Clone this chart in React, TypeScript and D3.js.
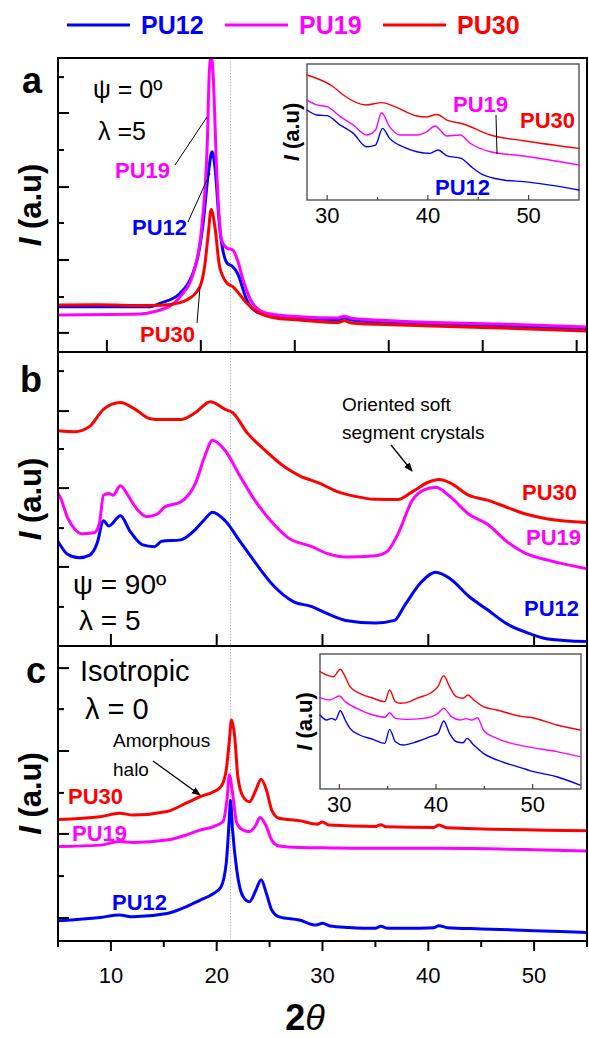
import React from "react";
import * as d3 from "d3";

type Pt = [number, number];

const FONT = "'Liberation Sans', Arial, Helvetica, sans-serif";
const SERIES = ["PU12", "PU19", "PU30"];
const COLORS: Record<string, string> = { PU12: "#0000ff", PU19: "#ff00ff", PU30: "#ff0000" };

// ---- panel a: psi = 0°, lambda = 5 (own 2θ axis)
const a_PU12: Pt[] = [[5.0,15.4],[14.5,15.4],[15.7,16.6],[17.8,20.0],[19.6,31.3],[20.2,42.6],[20.8,60.8],[21.2,68.1],[21.5,63.0],[22.0,42.6],[22.8,30.2],[23.4,29.0],[23.9,26.8],[24.9,17.7],[26.3,13.2],[30.5,11.6],[34.6,11.0],[35.3,11.6],[36.0,10.9],[41.2,9.9],[51.8,8.8],[61.1,7.8]];
const a_PU19: Pt[] = [[5.0,12.6],[12.8,12.8],[15.7,14.3],[17.8,18.8],[19.2,26.8],[20.1,42.6],[20.7,72.1],[20.9,94.8],[21.1,101],[21.3,94.8],[21.7,60.8],[22.2,38.1],[22.8,35.3],[23.4,34.7],[23.9,31.3],[24.5,24.5],[25.5,16.6],[27.0,13.2],[30.5,12.0],[34.6,11.6],[35.3,12.2],[36.0,11.5],[41.2,10.5],[51.8,9.5],[61.1,8.5]];
const a_PU30: Pt[] = [[5.0,16.0],[9.3,16.1],[12.8,15.8],[15.7,15.9],[17.8,16.8],[18.5,17.7],[19.9,22.2],[20.4,29.0],[20.8,40.4],[21.1,48.5],[21.5,42.6],[22.0,29.0],[22.8,23.4],[23.4,22.2],[23.9,20.5],[24.9,16.6],[26.0,13.7],[28.1,11.5],[30.5,10.9],[34.6,10.0],[35.3,10.6],[36.0,9.9],[41.2,9.2],[51.8,8.2],[61.1,7.1]];

// inset of panel a (28–55°)
const ia_PU12: Pt[] = [[28.0,66.2],[29.0,62.5],[30.0,62.0],[31.3,55.1],[32.6,49.0],[33.9,39.2],[34.8,40.4],[35.5,52.7],[36.2,45.3],[37.5,39.2],[38.9,35.5],[40.2,34.3],[41.0,36.8],[41.9,32.4],[43.3,30.6],[44.3,24.5],[45.5,18.4],[47.5,14.7],[49.5,13.5],[55.0,7.4]];
const ia_PU19: Pt[] = [[28.0,73.5],[29.0,69.9],[30.0,68.6],[31.3,61.3],[32.6,55.1],[33.9,47.8],[34.8,51.5],[35.4,64.2],[36.2,53.9],[37.2,47.8],[38.9,47.8],[39.9,50.2],[40.7,54.4],[41.9,47.1],[43.2,47.8],[44.2,41.7],[46.2,35.5],[49.5,32.4],[55.0,25.7]];
const ia_PU30: Pt[] = [[28.0,91.9],[30.6,83.3],[31.6,77.2],[33.9,69.9],[35.4,71.6],[36.6,69.0],[38.9,61.8],[39.8,61.0],[40.9,62.9],[41.9,58.8],[43.5,55.9],[46.2,47.8],[49.5,43.6],[55.0,38.0]];

// ---- panel b: psi = 90°, lambda = 5
const b_PU12: Pt[] = [[5.0,35.5],[5.2,34.4],[5.9,31.2],[7.0,30.0],[8.0,30.9],[8.7,35.0],[9.3,42.6],[9.8,40.8],[10.9,44.3],[11.8,39.1],[13.0,34.4],[14.1,33.8],[14.8,35.6],[16.6,36.1],[18.0,39.7],[18.9,43.2],[19.6,45.5],[20.8,42.6],[22.2,35.6],[23.6,28.6],[25.4,20.4],[27.2,15.2],[29.0,13.4],[30.4,11.1],[32.2,8.7],[35.0,7.8],[36.8,8.7],[37.8,14.0],[39.3,21.6],[40.7,25.1],[42.1,22.8],[43.8,17.0],[45.6,12.3],[47.4,7.6],[49.2,4.7],[51.3,2.4],[55.0,1.5]];
const b_PU19: Pt[] = [[5.0,52.0],[5.2,50.7],[5.9,43.7],[6.6,39.7],[7.2,38.2],[8.4,38.5],[8.9,41.4],[9.3,51.3],[9.8,51.9],[10.2,51.3],[10.9,54.5],[11.6,51.3],[12.3,47.3],[13.4,44.0],[14.4,44.9],[15.1,47.3],[16.6,49.0],[18.0,55.4],[18.9,64.8],[19.6,70.0],[20.8,66.5],[22.2,57.8],[23.6,49.6],[25.1,42.6],[26.8,36.7],[29.0,33.8],[30.4,31.5],[32.2,30.3],[35.0,30.7],[36.1,32.1],[37.1,37.9],[38.5,49.6],[39.6,53.1],[40.7,54.0],[42.1,50.7],[43.8,44.9],[45.6,41.4],[47.4,35.6],[49.2,31.5],[51.3,29.2],[55.0,26.3]];
const b_PU30: Pt[] = [[5.0,73.2],[6.6,72.9],[8.0,74.7],[9.3,80.5],[10.9,82.8],[12.3,80.5],[13.7,77.3],[14.8,77.0],[16.6,77.0],[18.0,79.4],[19.4,83.1],[20.8,80.5],[21.5,79.4],[22.9,72.4],[24.4,67.1],[26.5,60.7],[27.9,57.8],[29.7,55.4],[31.4,52.5],[33.2,50.8],[35.0,49.9],[37.1,49.8],[38.5,52.5],[40.0,55.7],[41.0,56.6],[42.1,55.4],[43.8,51.3],[45.6,49.6],[47.4,47.2],[49.2,44.9],[51.3,43.2],[55.0,42.0]];

// ---- panel c: isotropic, lambda = 0
const c_PU12: Pt[] = [[5.0,6.9],[9.0,8.0],[10.8,8.8],[12.1,8.2],[15.3,9.3],[17.1,11.6],[18.4,13.8],[19.7,16.1],[20.4,18.3],[20.9,26.3],[21.2,42.1],[21.3,47.7],[21.5,37.6],[21.9,24.0],[22.5,15.0],[23.1,13.3],[23.7,17.2],[24.2,20.8],[24.7,16.1],[25.2,10.5],[25.9,8.2],[27.8,7.1],[29.4,5.4],[30.0,6.0],[30.7,5.1],[32.5,4.6],[35.0,4.3],[35.5,5.0],[36.2,4.3],[38.0,4.3],[40.5,4.5],[41.0,5.2],[41.8,4.5],[45.0,4.1],[50.0,3.5],[55.0,2.9]];
const c_PU19: Pt[] = [[5.0,32.0],[9.0,32.5],[10.8,33.7],[12.1,33.4],[15.3,34.2],[17.1,35.9],[18.4,37.6],[19.7,38.8],[20.6,40.5],[21.0,48.9],[21.2,56.3],[21.5,50.1],[21.9,39.9],[22.5,37.6],[23.1,37.1],[23.7,39.3],[24.1,41.9],[24.7,38.8],[25.2,34.2],[25.9,32.2],[27.8,31.7],[30.0,31.6],[35.5,31.4],[41.0,31.4],[55.0,30.5]];
const c_PU30: Pt[] = [[5.0,41.2],[9.0,42.1],[10.8,43.3],[12.1,42.7],[15.3,43.9],[17.1,46.7],[18.4,48.9],[19.7,50.6],[20.4,52.3],[20.9,57.9],[21.2,68.1],[21.4,74.9],[21.7,69.3],[22.0,55.7],[22.5,48.9],[23.1,47.2],[23.7,51.2],[24.2,54.8],[24.7,51.2],[25.2,44.4],[25.9,41.6],[27.8,40.8],[29.5,39.6],[30.0,40.3],[30.6,39.3],[35.0,38.8],[35.5,39.4],[36.0,38.7],[40.5,38.5],[41.0,39.3],[41.7,38.4],[55.0,37.4]];

// inset of panel c (28–55°)
const ic_PU12: Pt[] = [[28.0,54.8],[28.7,51.1],[29.2,52.3],[29.6,51.1],[30.1,58.0],[30.6,51.1],[31.1,44.9],[32.1,40.0],[33.5,36.8],[34.7,33.8],[35.2,44.2],[35.8,35.0],[36.6,32.6],[38.0,35.0],[39.4,38.8],[40.2,41.2],[40.8,50.4],[41.4,41.2],[42.1,35.0],[42.8,34.3],[43.2,37.5],[43.9,32.6],[44.9,26.4],[46.3,21.5],[49.0,15.3],[49.7,13.6],[52.5,9.1],[54.9,2.9]];
const ic_PU19: Pt[] = [[28.0,67.9],[29.0,65.9],[30.0,68.9],[30.6,64.7],[31.8,59.7],[33.5,54.8],[34.7,53.1],[35.2,56.5],[35.8,52.3],[37.0,51.6],[38.7,52.3],[40.1,55.5],[40.8,59.7],[41.6,53.6],[42.5,51.1],[43.1,52.1],[43.7,51.1],[44.3,52.8],[44.9,43.7],[46.3,37.5],[49.0,31.9],[52.5,27.7],[54.9,24.0]];
const ic_PU30: Pt[] = [[28.0,86.9],[28.7,84.4],[29.4,83.2],[30.1,88.7],[30.6,83.2],[31.1,75.8],[32.1,70.9],[33.5,67.2],[34.7,64.7],[35.2,73.3],[35.8,64.7],[36.3,63.5],[37.3,64.7],[38.0,67.2],[39.4,70.9],[40.2,75.8],[40.8,83.9],[41.4,75.8],[42.1,68.4],[42.8,67.2],[43.3,69.6],[43.9,66.0],[44.9,61.0],[46.3,58.5],[49.0,53.6],[49.7,53.1],[52.5,47.4],[54.9,43.7]];

// ---- axes
const A_X_DOMAIN: [number, number] = [4.8, 61.1];
const A_X_TICKS = [10, 20, 30, 40, 50, 60];
const BC_X_DOMAIN: [number, number] = [5, 55];
const BC_X_TICKS = [10, 20, 30, 40, 50];
const C_X_MINOR = [5, 15, 25, 35, 45, 55];
const X_LABELS = ["10", "20", "30", "40", "50"];
const INSET_X_DOMAIN: [number, number] = [28, 55];
const INSET_X_TICKS = [30, 40, 50];
const INSET_X_MINOR = [35, 45];
const A_Y_TICKS = [6.5, 18.7, 31.3, 43.9, 56.1, 68.7, 81.3, 93.5];
const B_Y_TICKS = [13.3, 26.9, 40.1, 53.7, 67.0, 79.9, 93.5];
const C_Y_TICKS = [7.8, 22.0, 36.3, 50.2, 64.4, 78.6, 92.5];
const REF_LINE_X = 21.3;

const W = 589, H = 1038;
const LEFT = 58, RIGHT = 587;
const PANELS = { a: [58, 352], b: [352, 646], c: [646, 941] } as const;

function curvePath(pts: Pt[], x: d3.ScaleLinear<number, number>, y: d3.ScaleLinear<number, number>) {
  return d3.line<Pt>().x(d => x(d[0])).y(d => y(d[1])).curve(d3.curveMonotoneX)(pts) || "";
}

function Curves({ sets, x, y, w, clip }: { sets: Record<string, Pt[]>; x: any; y: any; w: number; clip?: string }) {
  return (
    <g clipPath={clip ? `url(#${clip})` : undefined}>
      {SERIES.map(s => (
        <path key={s} d={curvePath(sets[s], x, y)} fill="none" stroke={COLORS[s]} strokeWidth={w} strokeLinejoin="round" strokeLinecap="round" />
      ))}
    </g>
  );
}

function YTicks({ ticks, y, longEven }: { ticks: number[]; y: any; longEven: boolean }) {
  return (
    <g stroke="#000" strokeWidth={2}>
      {ticks.map((t, i) => {
        const long = (i % 2 === 0) === longEven;
        return <line key={i} x1={LEFT} x2={LEFT + (long ? 11 : 6)} y1={y(t)} y2={y(t)} />;
      })}
    </g>
  );
}

function Label({ x, y, color, text, size = 22, anchor = "start" }: any) {
  return <text x={x} y={y} fill={color} fontFamily={FONT} fontWeight="bold" fontSize={size} textAnchor={anchor}>{text}</text>;
}

function YLabel({ cx, cy, size }: { cx: number; cy: number; size: number }) {
  return (
    <text transform={`translate(${cx + size * 0.36},${cy}) rotate(-90)`} textAnchor="middle" fontFamily={FONT} fontWeight="bold" fontSize={size} fill="#000">
      <tspan fontStyle="italic">I</tspan> (a.u)
    </text>
  );
}

function Inset({ box, sets, children }: { box: [number, number, number, number]; sets: Record<string, Pt[]>; children?: React.ReactNode }) {
  const [x0, y0, x1, y1] = box;
  const x = d3.scaleLinear().domain(INSET_X_DOMAIN).range([x0, x1]);
  const y = d3.scaleLinear().domain([0, 100]).range([y1, y0]);
  return (
    <g>
      <rect x={x0} y={y0} width={x1 - x0} height={y1 - y0} fill="#fff" stroke="#444" strokeWidth={1.3} />
      <Curves sets={sets} x={x} y={y} w={1.4} />
      <g stroke="#444" strokeWidth={1.2}>
        {INSET_X_TICKS.map(t => <line key={t} x1={x(t)} x2={x(t)} y1={y1} y2={y1 - 5} />)}
        {INSET_X_MINOR.map(t => <line key={t} x1={x(t)} x2={x(t)} y1={y1} y2={y1 - 3} />)}
      </g>
      {INSET_X_TICKS.map(t => (
        <text key={t} x={x(t)} y={y1 + 23} textAnchor="middle" fontFamily={FONT} fontSize={22} fill="#000">{t}</text>
      ))}
      <YLabel cx={x0 - 16} cy={(y0 + y1) / 2} size={22} />
      {children}
    </g>
  );
}

export default function App() {
  const xA = d3.scaleLinear().domain(A_X_DOMAIN).range([LEFT, RIGHT]);
  const x = d3.scaleLinear().domain(BC_X_DOMAIN).range([LEFT, RIGHT]);
  const yA = d3.scaleLinear().domain([0, 100]).range([PANELS.a[1], PANELS.a[0]]);
  const yB = d3.scaleLinear().domain([0, 100]).range([PANELS.b[1], PANELS.b[0]]);
  const yC = d3.scaleLinear().domain([0, 100]).range([PANELS.c[1], PANELS.c[0]]);

  const legend = [
    { s: "PU12", x: 67 },
    { s: "PU19", x: 225 },
    { s: "PU30", x: 383 },
  ];

  return (
    <div style={{ position: "absolute", left: 0, top: 0 }}>
      <svg width={W} height={H} viewBox={`0 0 ${W} ${H}`} style={{ display: "block", background: "#fff" }}>
        <defs>
          {Object.entries(PANELS).map(([k, [t, b]]) => (
            <clipPath id={`clip-${k}`} key={k}>
              <rect x={LEFT} y={t} width={RIGHT - LEFT} height={b - t} />
            </clipPath>
          ))}
          <marker id="arrow" viewBox="0 0 10 10" refX="9" refY="5" markerWidth="9" markerHeight="9" orient="auto" markerUnits="userSpaceOnUse">
            <path d="M0,1 L10,5 L0,9 z" fill="#000" />
          </marker>
        </defs>

        {/* legend */}
        {legend.map(l => (
          <g key={l.s}>
            <line x1={l.x} x2={l.x + 63} y1={25} y2={25} stroke={COLORS[l.s]} strokeWidth={3} />
            <text x={l.x + 74} y={34} fill={COLORS[l.s]} fontFamily={FONT} fontWeight="bold" fontSize={25}>{l.s}</text>
          </g>
        ))}

        {/* reference line at the hard-segment reflection */}
        <line x1={x(REF_LINE_X)} x2={x(REF_LINE_X)} y1={PANELS.a[0]} y2={PANELS.c[1]} stroke="#b8b8b8" strokeWidth={1} strokeDasharray="1.5,1.5" />

        {/* panel a */}
        <Curves sets={{ PU12: a_PU12, PU19: a_PU19, PU30: a_PU30 }} x={xA} y={yA} w={3} clip="clip-a" />
        <YTicks ticks={A_Y_TICKS} y={yA} longEven={true} />
        <g stroke="#000" strokeWidth={2}>
          {A_X_TICKS.map(t => <line key={t} x1={xA(t)} x2={xA(t)} y1={PANELS.a[1]} y2={PANELS.a[1] - 12} />)}
        </g>
        <text x={22} y={93} fontFamily={FONT} fontWeight="bold" fontSize={36}>a</text>
        <text x={93} y={98} fontFamily={FONT} fontSize={25}>ψ = 0º</text>
        <text x={98} y={140} fontFamily={FONT} fontSize={25}>λ =5</text>
        <g stroke="#000" strokeWidth={1}>
          <line x1={175} y1={165} x2={207} y2={117} />
          <line x1={188} y1={222} x2={210} y2={173} />
          <line x1={197} y1={323} x2={200} y2={287} />
        </g>
        <Label x={115} y={178} color={COLORS.PU19} text="PU19" />
        <Label x={132} y={235} color={COLORS.PU12} text="PU12" />
        <Label x={140} y={342} color={COLORS.PU30} text="PU30" />
        <YLabel cx={30} cy={(PANELS.a[0] + PANELS.a[1]) / 2} size={31} />
        <Inset box={[307, 64, 579, 200]} sets={{ PU12: ia_PU12, PU19: ia_PU19, PU30: ia_PU30 }}>
          <line x1={496} y1={115} x2={497} y2={154} stroke="#000" strokeWidth={1} />
          <Label x={453} y={112} color={COLORS.PU19} text="PU19" />
          <Label x={520} y={128} color={COLORS.PU30} text="PU30" />
          <Label x={435} y={195} color={COLORS.PU12} text="PU12" />
        </Inset>

        {/* panel b */}
        <Curves sets={{ PU12: b_PU12, PU19: b_PU19, PU30: b_PU30 }} x={x} y={yB} w={3} clip="clip-b" />
        <YTicks ticks={B_Y_TICKS} y={yB} longEven={false} />
        <g stroke="#000" strokeWidth={2}>
          {BC_X_TICKS.map(t => <line key={t} x1={x(t)} x2={x(t)} y1={PANELS.b[1]} y2={PANELS.b[1] - 12} />)}
        </g>
        <text x={20} y={392} fontFamily={FONT} fontWeight="bold" fontSize={36}>b</text>
        <text x={73} y={594} fontFamily={FONT} fontSize={28}>ψ = 90º</text>
        <text x={79} y={630} fontFamily={FONT} fontSize={28}>λ = 5</text>
        <text x={342} y={411} fontFamily={FONT} fontSize={19}>Oriented soft</text>
        <text x={342} y={439} fontFamily={FONT} fontSize={19}>segment crystals</text>
        <line x1={391} y1={445} x2={412} y2={471} stroke="#000" strokeWidth={1.3} markerEnd="url(#arrow)" />
        <Label x={522} y={500} color={COLORS.PU30} text="PU30" />
        <Label x={526} y={545} color={COLORS.PU19} text="PU19" />
        <Label x={524} y={616} color={COLORS.PU12} text="PU12" />
        <YLabel cx={30} cy={(PANELS.b[0] + PANELS.b[1]) / 2} size={31} />

        {/* panel c */}
        <Curves sets={{ PU12: c_PU12, PU19: c_PU19, PU30: c_PU30 }} x={x} y={yC} w={3} clip="clip-c" />
        <YTicks ticks={C_Y_TICKS} y={yC} longEven={true} />
        <g stroke="#000" strokeWidth={2}>
          {BC_X_TICKS.map(t => <line key={t} x1={x(t)} x2={x(t)} y1={PANELS.c[1]} y2={PANELS.c[1] + 10} />)}
          {C_X_MINOR.map(t => <line key={t} x1={x(t)} x2={x(t)} y1={PANELS.c[1]} y2={PANELS.c[1] + 6} />)}
        </g>
        {BC_X_TICKS.map((t, i) => (
          <text key={t} x={x(t)} y={983} textAnchor="middle" fontFamily={FONT} fontSize={22}>{X_LABELS[i]}</text>
        ))}
        <text x={26} y={683} fontFamily={FONT} fontWeight="bold" fontSize={36}>c</text>
        <text x={80} y={681} fontFamily={FONT} fontSize={29}>Isotropic</text>
        <text x={85} y={719} fontFamily={FONT} fontSize={29}>λ = 0</text>
        <text x={113} y={747} fontFamily={FONT} fontSize={19}>Amorphous</text>
        <text x={113} y={776} fontFamily={FONT} fontSize={19}>halo</text>
        <line x1={153} y1={761} x2={200} y2={795} stroke="#000" strokeWidth={1.3} markerEnd="url(#arrow)" />
        <Label x={68} y={804} color={COLORS.PU30} text="PU30" />
        <Label x={72} y={841} color={COLORS.PU19} text="PU19" />
        <Label x={112} y={910} color={COLORS.PU12} text="PU12" />
        <YLabel cx={30} cy={(PANELS.c[0] + PANELS.c[1]) / 2} size={31} />
        <Inset box={[320, 654, 581, 789]} sets={{ PU12: ic_PU12, PU19: ic_PU19, PU30: ic_PU30 }} />

        {/* frames */}
        <g fill="none" stroke="#000" strokeWidth={2}>
          {Object.values(PANELS).map(([t, b], i) => (
            <rect key={i} x={LEFT} y={t} width={RIGHT - LEFT} height={b - t} />
          ))}
        </g>

        <text x={305} y={1030} textAnchor="middle" fontFamily={FONT} fontSize={36}>
          <tspan fontWeight="bold">2</tspan><tspan fontStyle="italic">θ</tspan>
        </text>
      </svg>
    </div>
  );
}
